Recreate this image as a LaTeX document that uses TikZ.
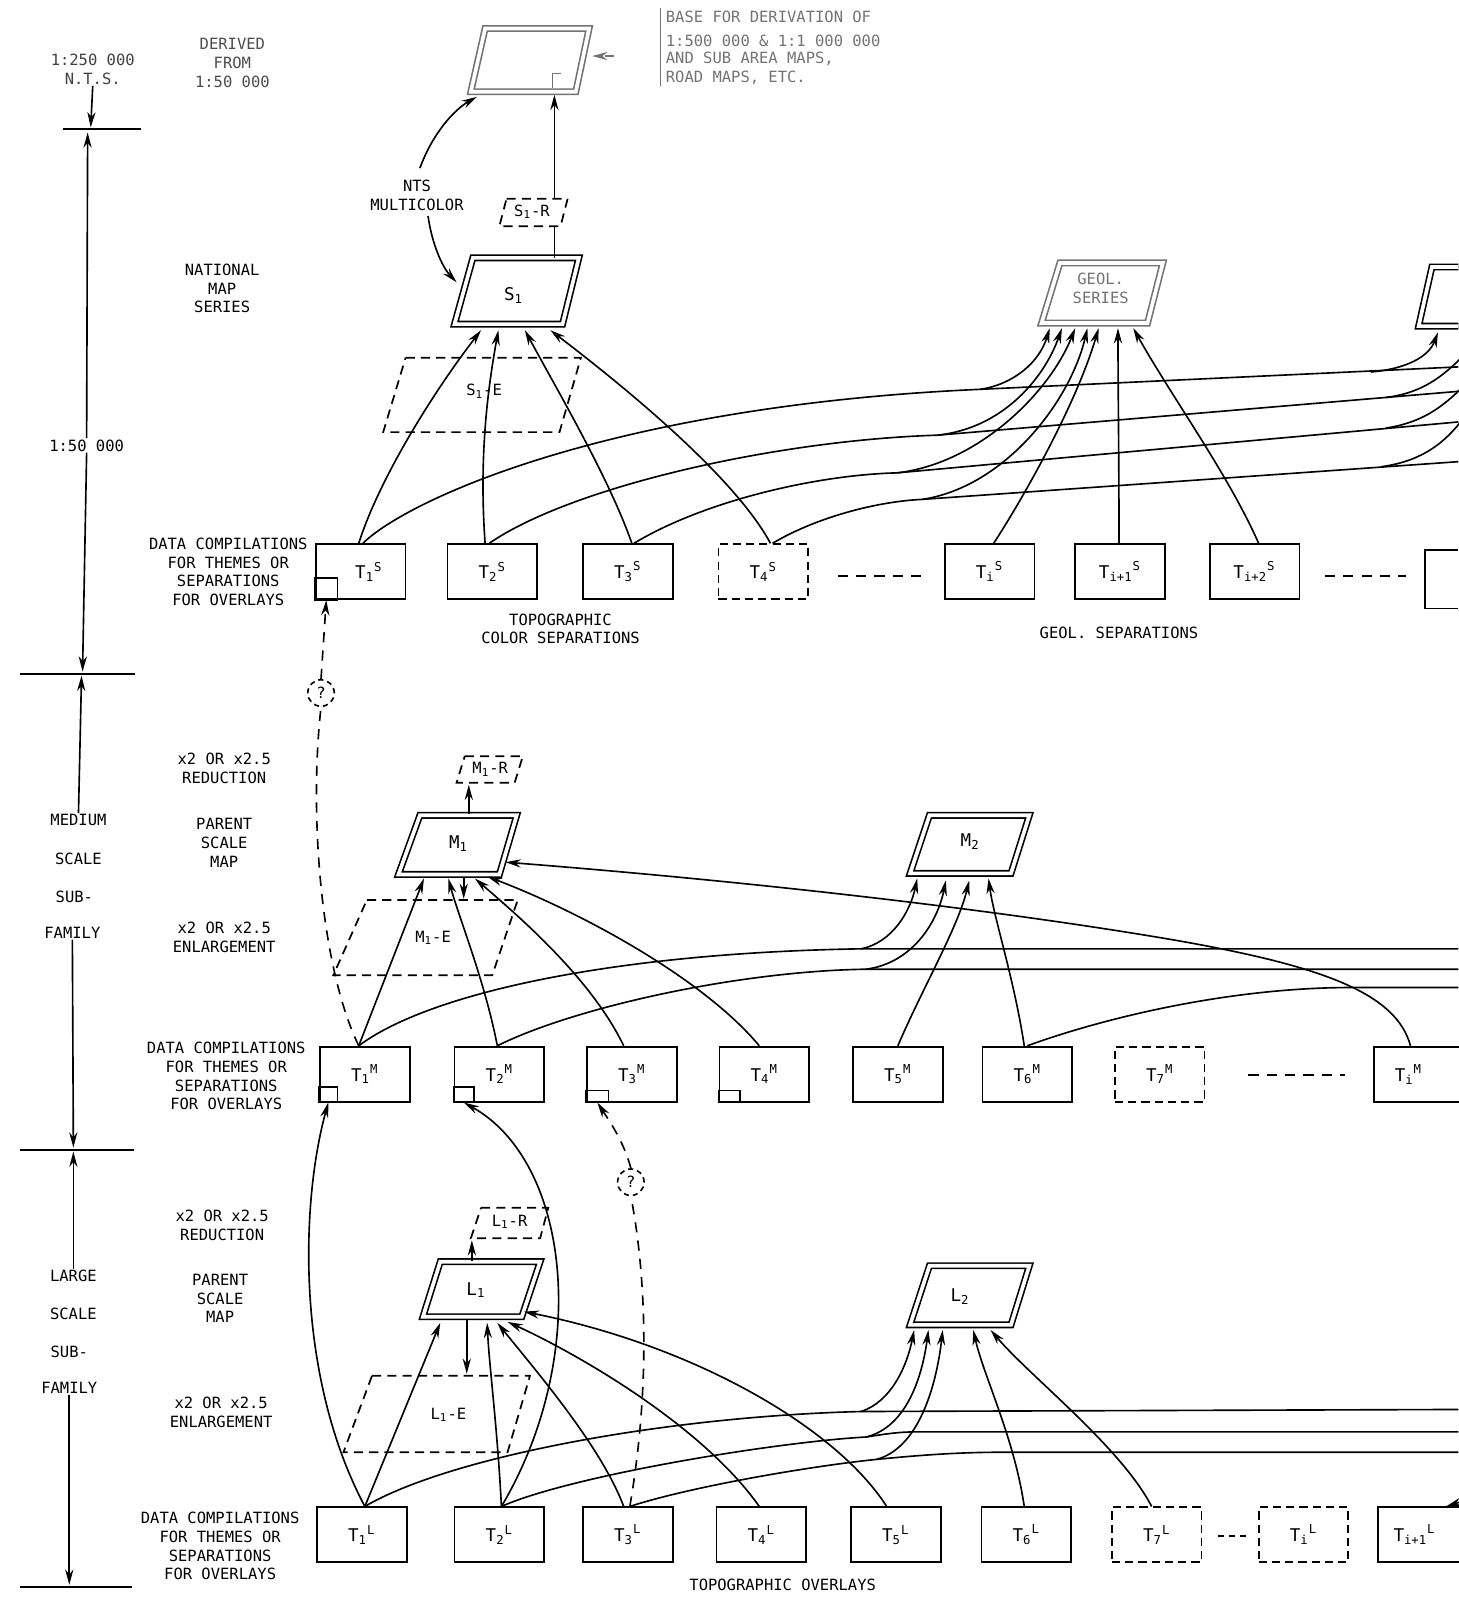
\documentclass[tikz,border=0pt]{standalone}
\usepackage{fontspec}
\newfontfamily\dvmono{DejaVu Sans Mono}
\usetikzlibrary{arrows.meta,calc}
\newcommand\Tsub[2]{T\textsubscript{#1}\textsuperscript{#2}}
\newcommand\Xsub[2]{#1\textsubscript{#2}}
\begin{document}
\begin{tikzpicture}[x=0.5pt,y=-0.5pt,
  txt/.style={font=\dvmono\fontsize{7.6}{9.2}\selectfont, align=center, inner sep=0.5pt},
  boxtxt/.style={font=\dvmono\fontsize{8.6}{10}\selectfont},
  tbox/.style={draw, line width=0.85pt, minimum width=44pt, minimum height=27pt, inner sep=0pt, boxtxt},
  dbox/.style={tbox, dash pattern=on 4pt off 2.5pt},
  ln/.style={line width=0.8pt},
  arr/.style={ln, -{Stealth[length=7.5pt,width=4pt]}},
  oarr/.style={ln, -{Stealth[length=7.5pt,width=4pt,open]}},
  dashln/.style={ln, dash pattern=on 5pt off 4pt},
  mapd/.style={double, double distance=1.8pt, line width=0.8pt, line join=miter},
  dpar/.style={line width=0.85pt, dash pattern=on 4.5pt off 3pt},
  tick/.style={line width=1pt},
  qc/.style={draw, circle, line width=0.8pt, dash pattern=on 2.5pt off 2pt, minimum size=13pt, inner sep=0pt, txt},
  faint/.style={black!55},
]
\useasboundingbox (0,0) rectangle (1431,1568);

% ---------------- left scale axis ----------------
\node[txt, black!75] (n250) at (91,68) {1:250 000\\N.T.S.};
\draw[arr] (n250.south) -- (89,125);
\draw[tick] (62,127) -- (138,127);
\node[txt, fill=white] (s50) at (85,437) {1:50 000};
\draw[arr] (s50.north) -- (86,130);
\draw[arr] (s50.south) -- (81,659);
\draw[tick] (20,661) -- (132,661);
\node[txt] (med) at (77,805) {MEDIUM};
\node[txt] at (77,843) {SCALE};
\node[txt] at (73,880) {SUB-};
\node[txt] (medf) at (71,915) {FAMILY};
\draw[arr] (med.north) -- (80,663);
\draw[arr] (medf.south) -- (72,1126);
\draw[tick] (20,1128) -- (131,1128);
\node[txt] (lrg) at (72,1252) {LARGE};
\node[txt] at (72,1289) {SCALE};
\node[txt] at (68,1326) {SUB-};
\node[txt] (lrgf) at (68,1362) {FAMILY};
\draw[arr] (lrg.north) -- (72,1130);
\draw[arr] (lrgf.south) -- (68,1555);
\draw[tick] (20,1557) -- (130,1557);

% ---------------- second column labels ----------------
\node[txt, black!70] at (228,62) {DERIVED\\FROM\\1:50 000};
\node[txt] at (218,283) {NATIONAL\\MAP\\SERIES};
\node[txt] at (224,561) {DATA COMPILATIONS\\FOR THEMES OR\\SEPARATIONS\\FOR OVERLAYS};
\node[txt] at (220,754) {x2 OR x2.5\\REDUCTION};
\node[txt] at (220,827) {PARENT\\SCALE\\MAP};
\node[txt] at (220,920) {x2 OR x2.5\\ENLARGEMENT};
\node[txt] at (222,1056) {DATA COMPILATIONS\\FOR THEMES OR\\SEPARATIONS\\FOR OVERLAYS};
\node[txt] at (218,1202) {x2 OR x2.5\\REDUCTION};
\node[txt] at (216,1274) {PARENT\\SCALE\\MAP};
\node[txt] at (217,1386) {x2 OR x2.5\\ENLARGEMENT};
\node[txt] at (216,1517) {DATA COMPILATIONS\\FOR THEMES OR\\SEPARATIONS\\FOR OVERLAYS};

% ---------------- top map and note ----------------
\draw[mapd, faint] (476,28) -- (578,28) -- (565,90) -- (462,90) -- cycle;
\draw[ln, faint] (542,86) -- (542,72) -- (550,72);
\draw[faint, line width=0.7pt] (648,8) -- (648,84);
\node[txt, faint, anchor=west] (note1) at (652,17) {BASE FOR DERIVATION OF};
\node[txt, faint, anchor=west] at (652,40) {1:500 000 \& 1:1 000 000};
\node[txt, faint, anchor=west] at (652,58) {AND SUB AREA MAPS,};
\node[txt, faint, anchor=west] at (652,76) {ROAD MAPS, ETC.};
\draw[arr, faint, dash pattern=on 4pt off 2pt] (602,55) -- (581,55);

% ---------------- S level ----------------
\draw[mapd] (464,253) -- (568,253) -- (552,318) -- (446,318) -- cycle;
\node[boxtxt] (s1) at (504,290) {\Xsub{S}{1}};
\draw[dpar] (497,195) -- (557,195) -- (550,222) -- (490,222) -- cycle;
\node[txt] (s1r) at (522,208) {\Xsub{S}{1}-R};
\draw[dpar] (398,351) -- (570,351) -- (549,424) -- (376,424) -- cycle;
\node[txt] (s1e) at (475,384) {\Xsub{S}{1}-E};
\draw[ln] (544,253) -- (544,222);
\draw[arr] (544,195) -- (544,93);

\node[txt, anchor=west] (nts) at (362,192) {NTS\\MULTICOLOR};
\draw[arr] (412,165) .. controls (424,132) and (445,108) .. (468,95);
\draw[arr] (420,212) .. controls (424,240) and (434,262) .. (448,277);

\draw[mapd, faint] (1040,258) -- (1141,258) -- (1126,317) -- (1022,317) -- cycle;
\node[txt, faint] (geol) at (1080,283) {GEOL.\\SERIES};
\draw[mapd] (1431,262) -- (1405,262) -- (1392,320) -- (1431,320);

\node[tbox] (t1s) at (354,561) {\hspace*{8pt}\Tsub{1}{S}};
\node[tbox] (t2s) at (483,561) {\Tsub{2}{S}};
\node[tbox] (t3s) at (616,561) {\Tsub{3}{S}};
\node[dbox] (t4s) at (749,561) {\Tsub{4}{S}};
\node[tbox] (tis) at (971,561) {\Tsub{i}{S}};
\node[tbox] (ti1s) at (1099,561) {\Tsub{i+1}{S}};
\node[tbox] (ti2s) at (1231,561) {\Tsub{i+2}{S}};
\draw[ln] (t1s.south west) rectangle ++(22,-22);
\draw[line width=0.85pt] (1431,540) -- (1398,540) -- (1398,597) -- (1431,597);
\draw[ln, dash pattern=on 5pt off 4pt] (822,565) -- (905,565);
\draw[ln, dash pattern=on 5pt off 4pt] (1300,565) -- (1380,565);
\node[txt] at (550,617) {TOPOGRAPHIC\\COLOR SEPARATIONS};
\node[txt] at (1098,621) {GEOL. SEPARATIONS};

\draw[arr] ($(t1s.north)+(-2,0)$) .. controls (372,470) and (425,385) .. (472,324);
\draw[arr] ($(t2s.north)+(-7,0)$) .. controls (470,450) and (478,385) .. (489,324);
\draw[arr] ($(t3s.north)+(4,0)$) .. controls (598,470) and (548,385) .. (515,324);
\draw[oarr] ($(t4s.north)+(7,0)$) .. controls (722,470) and (620,385) .. (540,324);

\draw[ln] ($(t1s.north)+(2,0)$) .. controls (400,490) and (600,398) .. (962,382) -- (1431,360);
\draw[arr] (962,382) .. controls (995,377) and (1020,355) .. (1030,322);
\draw[arr] (1345,365) .. controls (1380,362) and (1402,350) .. (1411,326);
\draw[ln] ($(t2s.north)+(-3,0)$) .. controls (560,478) and (760,432) .. (920,427) -- (1431,384);
\draw[arr] (920,427) .. controls (985,420) and (1025,370) .. (1042,322);
\draw[ln] (1360,390) .. controls (1400,385) and (1420,365) .. (1440,345);
\draw[ln] ($(t3s.north)+(6,0)$) .. controls (690,492) and (800,466) .. (880,464) -- (1431,414);
\draw[arr] (880,464) .. controls (960,455) and (1030,385) .. (1055,322);
\draw[ln] (1360,420) .. controls (1400,414) and (1420,395) .. (1440,375);
\draw[ln] ($(t4s.north)+(9,0)$) .. controls (800,508) and (860,492) .. (905,490) -- (1431,453);
\draw[arr] (905,490) .. controls (985,478) and (1050,395) .. (1067,322);
\draw[ln] (1355,458) .. controls (1400,452) and (1422,430) .. (1440,405);
\draw[arr] ($(tis.north)+(4,0)$) .. controls (1000,495) and (1055,400) .. (1078,322);
\draw[arr] ($(ti1s.north)+(-1,0)$) .. controls (1098,450) and (1097,380) .. (1097,322);
\draw[arr] ($(ti2s.north)+(4,0)$) .. controls (1205,465) and (1150,390) .. (1112,322);

% ---------------- M level ----------------
\draw[dpar] (456,742) -- (513,742) -- (505,768) -- (448,768) -- cycle;
\node[txt] (m1r) at (481,755) {\Xsub{M}{1}-R};
\draw[mapd] (412,800) -- (507,800) -- (490,858) -- (391,858) -- cycle;
\node[boxtxt] (m1) at (450,828) {\Xsub{M}{1}};
\draw[dpar] (360,883) -- (508,883) -- (483,957) -- (327,957) -- cycle;
\node[txt] (m1e) at (425,920) {\Xsub{M}{1}-E};
\draw[arr] (460,799) -- (460,770);
\draw[arr] (455,861) -- (455,882);
\draw[mapd] (912,800) -- (1010,800) -- (992,857) -- (893,857) -- cycle;
\node[boxtxt] (m2) at (952,826) {\Xsub{M}{2}};

\node[tbox] (t1m) at (358,1054) {\Tsub{1}{M}};
\node[tbox] (t2m) at (490,1054) {\Tsub{2}{M}};
\node[tbox] (t3m) at (620,1054) {\Tsub{3}{M}};
\node[tbox] (t4m) at (750,1054) {\Tsub{4}{M}};
\node[tbox] (t5m) at (881,1054) {\Tsub{5}{M}};
\node[tbox] (t6m) at (1008,1054) {\Tsub{6}{M}};
\node[dbox] (t7m) at (1138,1054) {\Tsub{7}{M}};
\node[tbox] (tim) at (1392,1054) {\Tsub{i}{M}\hspace*{10pt}};
\draw[ln] (t1m.south west) rectangle ++(18,-15);
\draw[ln] (t2m.south west) rectangle ++(20,-15);
\draw[ln] (t3m.south west) rectangle ++(22,-12);
\draw[ln] (t4m.south west) rectangle ++(21,-12);
\draw[ln, dash pattern=on 5pt off 4pt] (1225,1055) -- (1320,1055);

\node[qc] (q1) at (315,680) {?};
\draw[dashln] ($(t1m.north)+(-6,0)$) .. controls (315,950) and (303,800) .. (q1.south);
\draw[dashln, -{Stealth[length=7.5pt,width=4pt]}] (q1.north) -- ($(t1s.south west)+(11,0)$);

\draw[arr] ($(t1m.north)+(-6,0)$) -- (416,862);
\draw[oarr] ($(t2m.north)+(-2,0)$) .. controls (475,960) and (450,900) .. (440,862);
\draw[arr] ($(t3m.north)+(-8,0)$) .. controls (580,960) and (510,900) .. (466,862);
\draw[arr] ($(t4m.north)+(-5,0)$) .. controls (690,960) and (570,895) .. (478,860);
\draw[arr] ($(tim.north)+(-8,0)$) .. controls (1370,975) and (1300,948) .. (1150,922) .. controls (950,888) and (700,862) .. (496,846);

\draw[ln] ($(t1m.north)+(-6,0)$) .. controls (420,975) and (600,935) .. (845,931) -- (1431,931);
\draw[arr] (845,931) .. controls (875,925) and (893,895) .. (900,862);
\draw[ln] ($(t2m.north)+(-2,0)$) .. controls (560,990) and (720,953) .. (850,951) -- (1431,951);
\draw[oarr] (850,951) .. controls (895,945) and (920,905) .. (928,864);
\draw[arr] (t5m.north) .. controls (905,970) and (940,910) .. (951,864);
\draw[arr] ($(t6m.north)+(-3,0)$) .. controls (995,960) and (975,900) .. (970,862);
\draw[ln] (t6m.north) .. controls (1080,1000) and (1200,970) .. (1320,969) -- (1431,969);

% ---------------- L level ----------------
\draw[dpar] (472,1185) -- (538,1185) -- (530,1215) -- (462,1215) -- cycle;
\node[txt] (l1r) at (500,1199) {\Xsub{L}{1}-R};
\draw[mapd] (432,1238) -- (530,1238) -- (512,1292) -- (415,1292) -- cycle;
\node[boxtxt] (l1) at (467,1266) {\Xsub{L}{1}};
\draw[dpar] (365,1350) -- (520,1350) -- (498,1425) -- (337,1425) -- cycle;
\node[txt] (l1e) at (440,1388) {\Xsub{L}{1}-E};
\draw[arr] (463,1237) -- (463,1217);
\draw[arr] (458,1295) -- (458,1348);
\draw[mapd] (912,1242) -- (1010,1242) -- (992,1300) -- (893,1300) -- cycle;
\node[boxtxt] (l2) at (942,1272) {\Xsub{L}{2}};

\node[tbox] (t1l) at (355,1506) {\Tsub{1}{L}};
\node[tbox] (t2l) at (490,1506) {\Tsub{2}{L}};
\node[tbox] (t3l) at (616,1506) {\Tsub{3}{L}};
\node[tbox] (t4l) at (747,1506) {\Tsub{4}{L}};
\node[tbox] (t5l) at (879,1506) {\Tsub{5}{L}};
\node[tbox] (t6l) at (1007,1506) {\Tsub{6}{L}};
\node[dbox] (t7l) at (1135,1506) {\Tsub{7}{L}};
\node[dbox] (til) at (1279,1506) {\Tsub{i}{L}};
\node[tbox] (ti1l) at (1396,1506) {\Tsub{i+1}{L}\hspace*{8pt}};
\draw[ln, dash pattern=on 3pt off 2.5pt] (1195,1507) -- (1225,1507);
\draw[arr] (1445,1470) -- ($(ti1l.north east)+(-22,0)$);
\node[txt] at (768,1555) {TOPOGRAPHIC OVERLAYS};

\node[qc] (q2) at (619,1160) {?};
\draw[dashln] ($(t3l.north)+(2,0)$) .. controls (640,1350) and (632,1240) .. (q2.south);
\draw[dashln, -{Stealth[length=7.5pt,width=4pt]}] (q2.north) .. controls (612,1120) and (598,1100) .. ($(t3m.south west)+(11,0)$);

\draw[arr] ($(t1l.north)+(3,0)$) .. controls (290,1350) and (295,1180) .. ($(t1m.south west)+(9,0)$);
\draw[arr] ($(t2l.north)+(2,0)$) .. controls (580,1330) and (560,1140) .. ($(t2m.south west)+(10,0)$);

\draw[arr] ($(t1l.north)+(3,0)$) -- (432,1298);
\draw[arr] ($(t2l.north)+(2,0)$) .. controls (488,1400) and (480,1340) .. (478,1298);
\draw[arr] ($(t3l.north)+(-4,0)$) .. controls (590,1420) and (530,1350) .. (488,1298);
\draw[arr] ($(t4l.north)+(-2,0)$) .. controls (690,1400) and (570,1330) .. (498,1297);
\draw[arr] ($(t5l.north)+(-9,0)$) .. controls (820,1400) and (680,1320) .. (514,1287);

\draw[ln] ($(t1l.north)+(3,0)$) .. controls (440,1430) and (650,1390) .. (845,1385) -- (1431,1383);
\draw[arr] (845,1385) .. controls (875,1375) and (890,1340) .. (897,1305);
\draw[ln] ($(t2l.north)+(2,0)$) .. controls (560,1448) and (760,1415) .. (850,1410) .. controls (870,1407) and (880,1405) .. (900,1405) -- (1431,1405);
\draw[arr] (850,1410) .. controls (890,1400) and (905,1350) .. (911,1305);
\draw[ln] ($(t3l.north)+(2,0)$) .. controls (680,1458) and (800,1438) .. (860,1432) .. controls (900,1428) and (940,1425) .. (980,1425) -- (1431,1425);
\draw[arr] (860,1432) .. controls (905,1420) and (920,1350) .. (925,1305);
\draw[arr] ($(t6l.north)+(-2,0)$) .. controls (995,1410) and (965,1350) .. (955,1305);
\draw[arr] ($(t7l.north)+(-5,0)$) .. controls (1100,1420) and (1010,1350) .. (972,1305);
\end{tikzpicture}
\end{document}
